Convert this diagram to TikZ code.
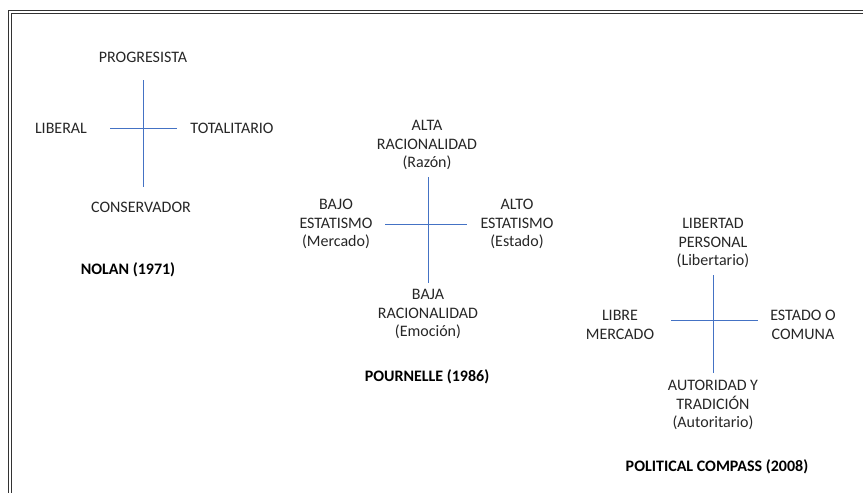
\documentclass[tikz,border=0pt]{standalone}
\usepackage{fontspec}
\setmainfont{Carlito}
\begin{document}
\begin{tikzpicture}[x=1pt,y=-1pt,
  lbl/.style={text=black!85, font=\fontsize{16}{18.3}\selectfont, align=center, inner sep=0pt},
  ttl/.style={text=black, font=\fontsize{16}{18.3}\selectfont\bfseries, inner sep=0pt},
  axis/.style={draw={rgb,255:red,68;green,114;blue,196}, line width=0.9pt},
  frame/.style={draw=black!80, line width=1pt}]
\useasboundingbox (0,0) rectangle (863,493);
\clip (0,0) rectangle (863,493);
\draw[frame] (8,10) rectangle (880,510);
\draw[frame] (11.5,13.5) rectangle (880,510);

% NOLAN
\node[lbl] (n-top) at (143,57) {PROGRESISTA};
\node[lbl] (n-left) at (61,128) {LIBERAL};
\node[lbl] (n-right) at (232,128) {TOTALITARIO};
\node[lbl] (n-bot) at (141,207) {CONSERVADOR};
\node[ttl] (n-ttl) at (128,270) {NOLAN (1971)};
\coordinate (n-v1) at (143,80);
\coordinate (n-v2) at (143,187);
\coordinate (n-h1) at (110,128);
\coordinate (n-h2) at (177,128);
\draw[axis] (n-v1) -- (n-v2);
\draw[axis] (n-h1) -- (n-h2);

% POURNELLE
\node[lbl] (p-top) at (427,145) {ALTA\\RACIONALIDAD\\(Razón)};
\node[lbl] (p-left) at (336,224) {BAJO\\ESTATISMO\\(Mercado)};
\node[lbl] (p-right) at (517,224) {ALTO\\ESTATISMO\\(Estado)};
\node[lbl] (p-bot) at (428,314) {BAJA\\RACIONALIDAD\\(Emoción)};
\node[ttl] (p-ttl) at (427,377) {POURNELLE (1986)};
\coordinate (p-v1) at (428,177);
\coordinate (p-v2) at (428,283);
\coordinate (p-h1) at (385,224);
\coordinate (p-h2) at (467,224);
\draw[axis] (p-v1) -- (p-v2);
\draw[axis] (p-h1) -- (p-h2);

% POLITICAL COMPASS
\node[lbl] (c-top) at (713,243) {LIBERTAD\\PERSONAL\\(Libertario)};
\node[lbl] (c-left) at (620,325) {LIBRE\\MERCADO};
\node[lbl] (c-right) at (803,325) {ESTADO O\\COMUNA};
\node[lbl] (c-bot) at (713,405) {AUTORIDAD Y\\TRADICIÓN\\(Autoritario)};
\node[ttl] (c-ttl) at (717,467) {POLITICAL COMPASS (2008)};
\coordinate (c-v1) at (713,275);
\coordinate (c-v2) at (713,373);
\coordinate (c-h1) at (671,320);
\coordinate (c-h2) at (758,320);
\draw[axis] (c-v1) -- (c-v2);
\draw[axis] (c-h1) -- (c-h2);
\end{tikzpicture}
\end{document}
